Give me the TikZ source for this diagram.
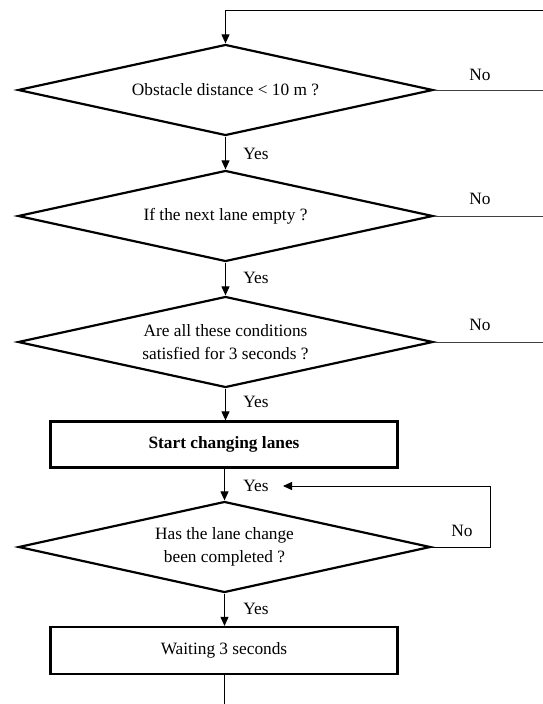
\documentclass[tikz,border=0pt]{standalone}
\usepackage{fontspec}
\setmainfont{Liberation Serif}
\usetikzlibrary{shapes.geometric,arrows.meta}
\begin{document}
\begin{tikzpicture}[x=1pt,y=-1pt,
  txt/.style={font=\fontsize{17.3}{22.7}\selectfont},
  dec/.style={txt, draw, line width=2.2pt, diamond, shape aspect=4.56, minimum width=415pt, minimum height=91pt, inner sep=0pt, align=center},
  proc/.style={txt, draw, line width=2.2pt, rectangle, minimum width=347pt, minimum height=46pt, inner sep=0pt},
  flow/.style={line width=0.9pt, -{Triangle[width=8pt,length=9pt]}},
  link/.style={line width=0.9pt, black!75},
  lbl/.style={txt, inner sep=0pt}]
\useasboundingbox (0,0) rectangle (543,704);

\node[dec] (d1) at (225.5,90) {Obstacle distance < 10 m ?};
\node[dec] (d2) at (225.5,216) {If the next lane empty ?};
\node[dec] (d3) at (225.5,342) {Are all these conditions\\satisfied for 3 seconds ?};
\node[proc] (r1) at (224,444.5) {\bfseries Start changing lanes};
\node[dec, minimum width=412pt] (d4) at (224.5,547) {Has the lane change\\been completed ?};
\node[proc, minimum height=47pt] (r2) at (224,650.5) {Waiting 3 seconds};

\coordinate (tr) at (543,10);
\coordinate (tl) at (225.5,10);
\coordinate (e1) at (543,90);
\coordinate (e2) at (543,216);
\coordinate (e3) at (543,342);
\coordinate (l1) at (490,547);
\coordinate (l2) at (490,486);
\coordinate (l3) at (283,486);
\coordinate (bot) at (224.5,704);

\draw[flow] (tr) -- (tl) -- (d1.north);
\draw[flow] (d1) -- (d2);
\draw[flow] (d2) -- (d3);
\draw[flow] (d3.south) -- (d3.south |- r1.north);
\draw[flow] (r1.south -| d4.north) -- (d4.north);
\draw[flow] (d4.south) -- (d4.south |- r2.north);
\draw[line width=0.9pt] (r2.south -| bot) -- (bot);

\draw[link] (d1.east) -- (e1);
\draw[link] (d2.east) -- (e2);
\draw[link] (d3.east) -- (e3);
\draw[link, -{Triangle[width=8pt,length=9pt]}, black] (d4.east) -- (l1) -- (l2) -- (l3);

\node[lbl] (y1) at (256,154) {Yes};
\node[lbl] (y2) at (256,278) {Yes};
\node[lbl] (y3) at (256,402) {Yes};
\node[lbl] (y4) at (256,486) {Yes};
\node[lbl] (y5) at (256,609) {Yes};
\node[lbl] (n1) at (480,75) {No};
\node[lbl] (n2) at (480,199) {No};
\node[lbl] (n3) at (480,325) {No};
\node[lbl] (n4) at (462,531) {No};
\end{tikzpicture}
\end{document}
